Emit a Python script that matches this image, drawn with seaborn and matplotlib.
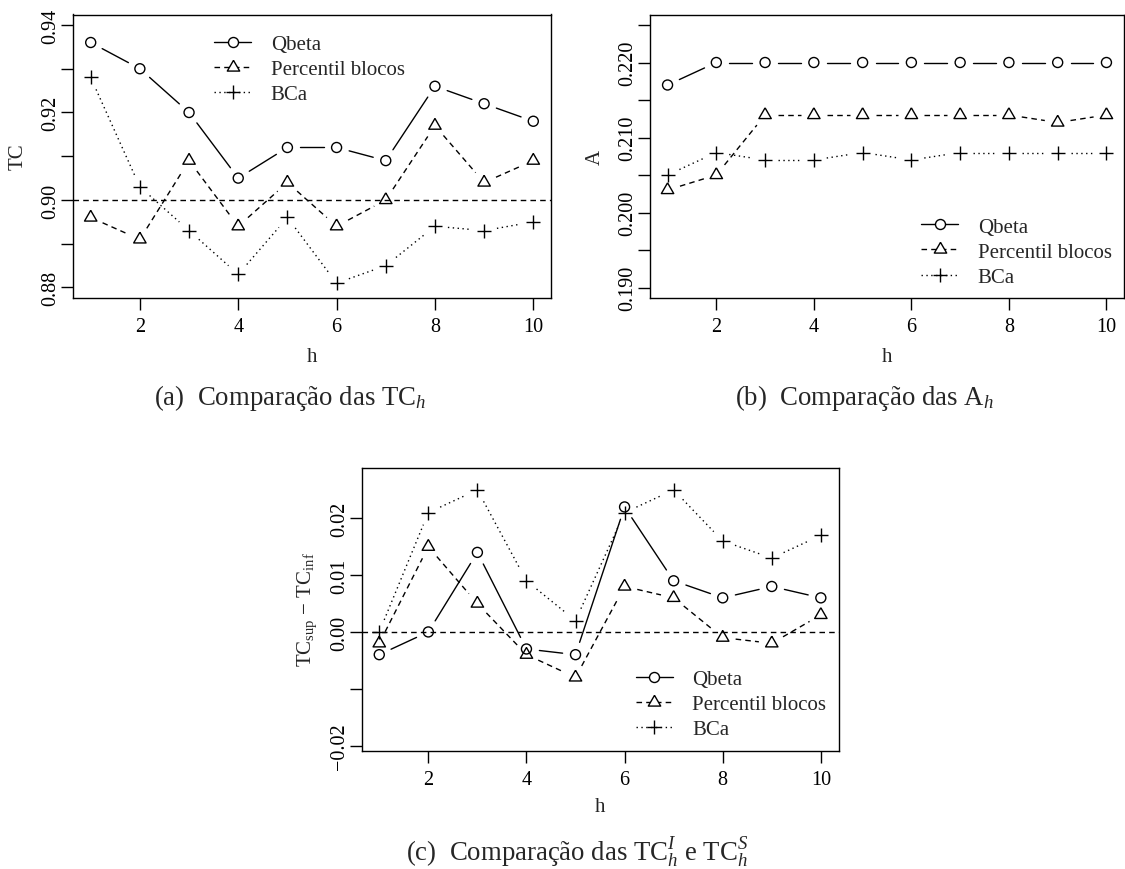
import numpy as np
import seaborn as sns
import matplotlib.pyplot as plt
from matplotlib.lines import Line2D

# data
h = [1, 2, 3, 4, 5, 6, 7, 8, 9, 10]
series_names = ["Qbeta", "Percentil blocos", "BCa"]

tc_qbeta = [0.936, 0.930, 0.920, 0.905, 0.912, 0.912, 0.909, 0.926, 0.922, 0.918]
tc_perc = [0.896, 0.891, 0.909, 0.894, 0.904, 0.894, 0.900, 0.917, 0.904, 0.909]
tc_bca = [0.928, 0.903, 0.893, 0.883, 0.896, 0.881, 0.885, 0.894, 0.893, 0.895]

a_qbeta = [0.217, 0.220, 0.220, 0.220, 0.220, 0.220, 0.220, 0.220, 0.220, 0.220]
a_perc = [0.203, 0.205, 0.213, 0.213, 0.213, 0.213, 0.213, 0.213, 0.212, 0.213]
a_bca = [0.205, 0.208, 0.207, 0.207, 0.208, 0.207, 0.208, 0.208, 0.208, 0.208]

d_qbeta = [-0.004, 0.000, 0.014, -0.003, -0.004, 0.022, 0.009, 0.006, 0.008, 0.006]
d_perc = [-0.002, 0.015, 0.005, -0.004, -0.008, 0.008, 0.006, -0.001, -0.002, 0.003]
d_bca = [0.000, 0.021, 0.025, 0.009, 0.002, 0.021, 0.025, 0.016, 0.013, 0.017]

tc_yticks = [0.88, 0.89, 0.90, 0.91, 0.92, 0.93, 0.94]
tc_ylabels = ["0.88", "", "0.90", "", "0.92", "", "0.94"]
a_yticks = [0.190, 0.195, 0.200, 0.205, 0.210, 0.215, 0.220, 0.225]
a_ylabels = ["0.190", "", "0.200", "", "0.210", "", "0.220", ""]
d_yticks = [-0.02, -0.01, 0.00, 0.01, 0.02]
d_ylabels = ["\u22120.02", "", "0.00", "0.01", "0.02"]
x_ticks = [2, 4, 6, 8, 10]

sns.set_style("ticks")
plt.rcParams["font.family"] = ["Liberation Serif", "DejaVu Serif"]
plt.rcParams["mathtext.fontset"] = "custom"
plt.rcParams["mathtext.rm"] = "Liberation Serif"
plt.rcParams["mathtext.it"] = "Liberation Serif:italic"

W, H = 1125, 870
fig = plt.figure(figsize=(W / 100, H / 100), dpi=100)
fig.patch.set_facecolor("white")

tri = [(0, 1), (-0.866, -0.5), (0.866, -0.5), (0, 1)]
styles = [
    dict(marker="o", s=52, ls="-", filled=False),
    dict(marker=tri, s=106, ls=(0, (4, 3)), filled=False),
    dict(marker="+", s=100, ls=(0, (1, 2.5)), filled=True),
]


def add_axes_px(left, top, right, bottom):
    return fig.add_axes([left / W, 1 - bottom / H, (right - left) / W, (bottom - top) / H])


def gapped_line(ax, x, y, ls, gap=13):
    # R type="b": segments stop short of each point
    pts = ax.transData.transform(np.column_stack([x, y]))
    inv = ax.transData.inverted()
    for p0, p1 in zip(pts[:-1], pts[1:]):
        d = p1 - p0
        L = np.hypot(*d)
        if L <= 2 * gap:
            continue
        u = d / L
        seg = inv.transform(np.vstack([p0 + u * gap, p1 - u * gap]))
        ax.plot(seg[:, 0], seg[:, 1], color="black", lw=1, ls=ls)


def panel(ax, ys, ylim, yticks, ylabels, ref=None):
    ax.set_xlim(0.64, 10.36)
    ax.set_ylim(*ylim)
    if ref is not None:
        ax.axhline(ref, color="black", lw=1, ls=(0, (4, 3)))
    for y, st in zip(ys, styles):
        gapped_line(ax, h, y, st["ls"])
        if st["filled"]:
            sns.scatterplot(x=h, y=y, ax=ax, marker=st["marker"], s=st["s"],
                            color="black", linewidth=1, legend=False, zorder=3)
        else:
            sns.scatterplot(x=h, y=y, ax=ax, marker=st["marker"], s=st["s"],
                            facecolor="none", edgecolor="black", linewidth=1,
                            legend=False, zorder=3)
    ax.set_xticks(x_ticks)
    ax.set_xticklabels([str(t) for t in x_ticks])
    ax.set_yticks(yticks)
    ax.set_yticklabels(ylabels)
    ax.set_xlabel("")
    ax.set_ylabel("")
    ax.tick_params(axis="both", direction="out", length=8.6, width=1,
                   labelsize=14.5, colors="black")
    ax.tick_params(axis="x", pad=5.3)
    ax.tick_params(axis="y", pad=0.5, labelrotation=90)
    for lab in ax.get_yticklabels():
        lab.set_va("center")
    for sp in ax.spines.values():
        sp.set_visible(True)
        sp.set_linewidth(1)
        sp.set_color("black")


def add_legend(ax, x, y):
    handles = []
    for name, st in zip(series_names, styles):
        handles.append(Line2D([], [], color="black", lw=1, ls=st["ls"],
                              marker=st["marker"],
                              markersize=np.sqrt(st["s"]),
                              markerfacecolor="white" if not st["filled"] else "black",
                              markeredgecolor="black", markeredgewidth=1))
    ax.legend(handles, series_names, loc="upper left", bbox_to_anchor=(x, y),
              frameon=False, fontsize=15, handlelength=1.78, handletextpad=0.94,
              labelspacing=0.27, borderpad=0, borderaxespad=0)


# (a)
ax_a = add_axes_px(73, 15.5, 551, 299)
panel(ax_a, [tc_qbeta, tc_perc, tc_bca], (0.8776, 0.9424), tc_yticks, tc_ylabels, ref=0.90)
add_legend(ax_a, 0.295, 0.930)

# (b)
ax_b = add_axes_px(650, 15.5, 1124, 299)
panel(ax_b, [a_qbeta, a_perc, a_bca], (0.1886, 0.2264), a_yticks, a_ylabels)
add_legend(ax_b, 0.572, 0.286)

# (c)
ax_c = add_axes_px(361.6, 469.3, 838.5, 751.7)
panel(ax_c, [d_qbeta, d_perc, d_bca], (-0.0209, 0.0288), d_yticks, d_ylabels, ref=0.0)
add_legend(ax_c, 0.575, 0.288)


def ftext(x, y, s, **kw):
    fig.text(x / W, 1 - y / H, s, ha="center", va="center", **kw)


ftext(18.5, 157, "TC", fontsize=15, rotation=90)
ftext(595.5, 157, "A", fontsize=15, rotation=90)
ftext(307, 610, "TC$_{\\mathrm{sup}}$ \u2212 TC$_{\\mathrm{inf}}$", fontsize=15, rotation=90)
ftext(312, 358, "h", fontsize=15)
ftext(887, 358, "h", fontsize=15)
ftext(600, 808, "h", fontsize=15)

ftext(290, 398, "(a)  Comparação das TC$_h$", fontsize=19.3)
ftext(864, 398, "(b)  Comparação das A$_h$", fontsize=19.3)
ftext(577, 853, "(c)  Comparação das TC$_h^I$ e TC$_h^S$", fontsize=19.3)

fig.savefig("out.png", dpi=100, facecolor="white")
